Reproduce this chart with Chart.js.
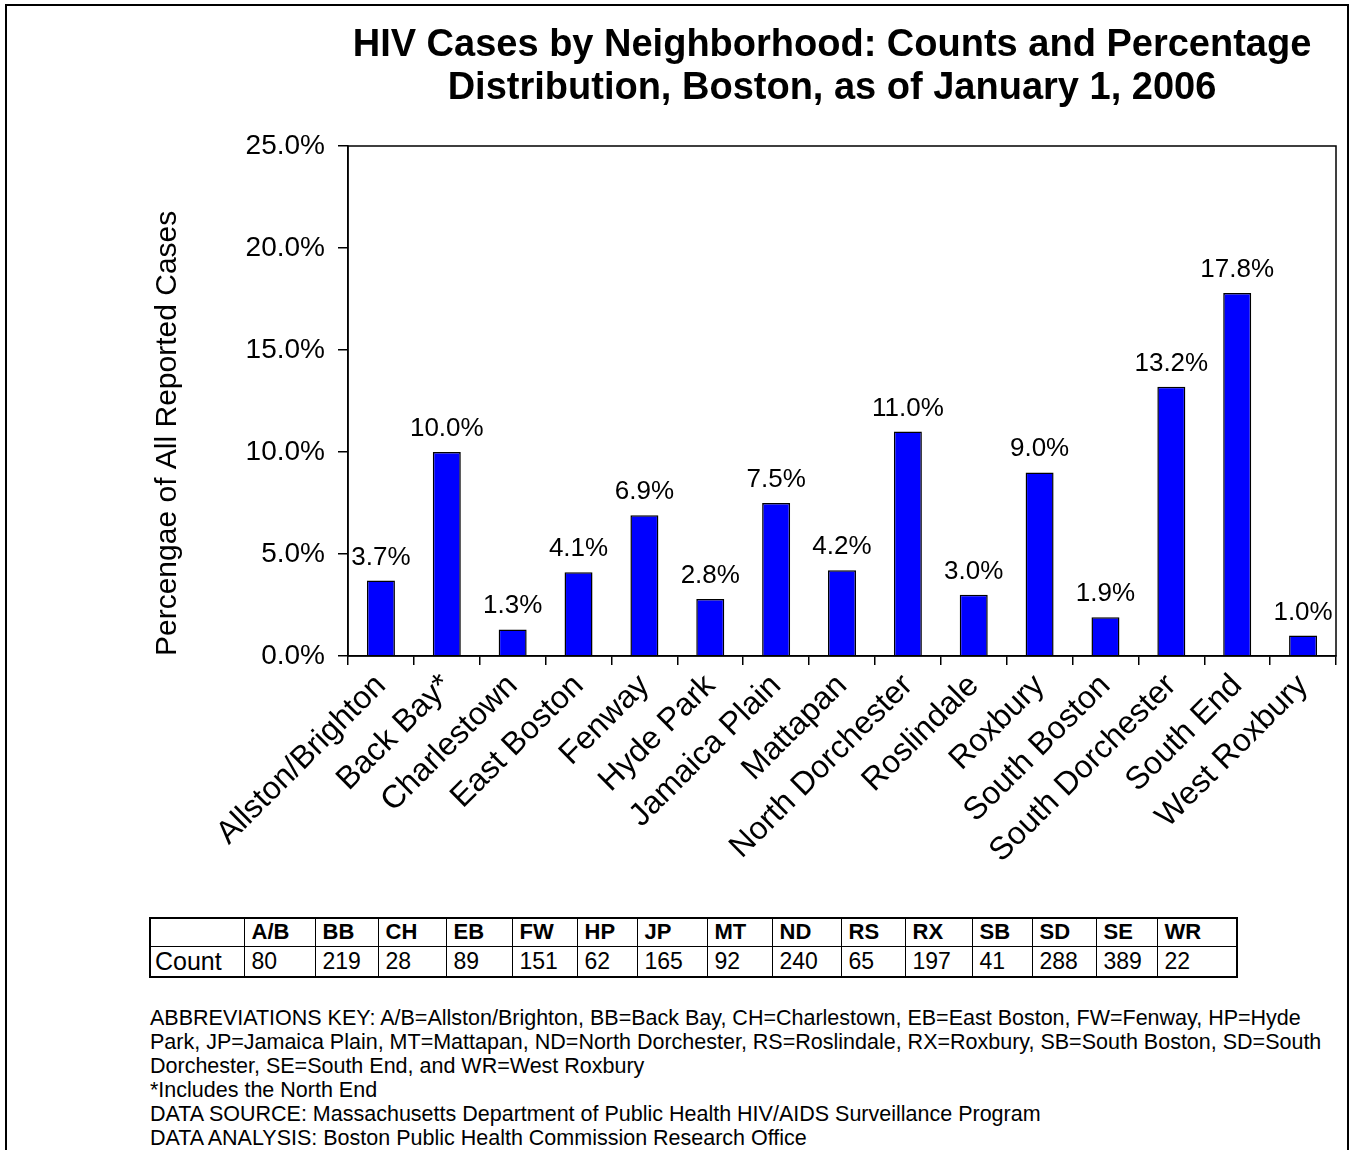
<!DOCTYPE html>
<html>
<head>
<meta charset="utf-8">
<script src="https://cdn.jsdelivr.net/npm/chart.js@4.4.1/dist/chart.umd.min.js"></script>
<style>
    body { margin: 0; background: #fff; font-family: Arial, "Liberation Sans", sans-serif; }
    #page { position: relative; width: 1354px; height: 1150px; overflow: hidden; background: #fff; }
    #frame { position: absolute; left: 5px; top: 4px; width: 1340px; height: 1200px; border: 2px solid #000; }
    #chartBox { position: absolute; left: 0; top: 0; width: 1354px; height: 900px; }
    #chartTitle { position: absolute; left: 332px; top: 22px; width: 1000px; text-align: center;
        font: bold 38px Arial, "Liberation Sans", sans-serif; line-height: 43px; color: #000; white-space: nowrap; }
    #countTable { position: absolute; left: 149px; top: 917px; border-collapse: collapse; border: 2px solid #000;
        table-layout: fixed; width: 1087px; }
    #countTable td { border: 1.5px solid #000; padding: 0 0 0 7px; height: 28px; font-size: 23px; color: #000;
        box-sizing: border-box; overflow: hidden; white-space: nowrap; }
    #countTable tr:first-child td { font-weight: bold; font-size: 22px; }
    #countTable tr:last-child td:first-child { font-size: 25px; padding-left: 4px; }
    #notes { position: absolute; left: 150px; top: 1006px; font-size: 21.5px; line-height: 24px; color: #000; white-space: nowrap; }
</style>
</head>
<body>
<div id="page">
    <div id="frame"></div>
    <div id="chartBox"><canvas id="hivChart" width="1354" height="900"></canvas></div>
    <div id="chartTitle">HIV Cases by Neighborhood: Counts and Percentage<br>Distribution, Boston, as of January 1, 2006</div>
    <table id="countTable"><colgroup id="tableCols"></colgroup></table>
    <div id="notes">
        ABBREVIATIONS KEY: A/B=Allston/Brighton, BB=Back Bay, CH=Charlestown, EB=East Boston, FW=Fenway, HP=Hyde<br>
        Park, JP=Jamaica Plain, MT=Mattapan, ND=North Dorchester, RS=Roslindale, RX=Roxbury, SB=South Boston, SD=South<br>
        Dorchester, SE=South End, and WR=West Roxbury<br>
        *Includes the North End<br>
        DATA SOURCE: Massachusetts Department of Public Health HIV/AIDS Surveillance Program<br>
        DATA ANALYSIS: Boston Public Health Commission Research Office
    </div>
</div>
<script>
const neighborhoods = ["Allston/Brighton", "Back Bay*", "Charlestown", "East Boston", "Fenway", "Hyde Park",
    "Jamaica Plain", "Mattapan", "North Dorchester", "Roslindale", "Roxbury", "South Boston",
    "South Dorchester", "South End", "West Roxbury"];
const percentages = [3.7, 10.0, 1.3, 4.1, 6.9, 2.8, 7.5, 4.2, 11.0, 3.0, 9.0, 1.9, 13.2, 17.8, 1.0];
const abbreviations = ["A/B", "BB", "CH", "EB", "FW", "HP", "JP", "MT", "ND", "RS", "RX", "SB", "SD", "SE", "WR"];
const counts = [80, 219, 28, 89, 151, 62, 165, 92, 240, 65, 197, 41, 288, 389, 22];
const yTicks = [0, 5, 10, 15, 20, 25];

const columnWidths = [94, 71, 63, 68, 66, 65, 60, 70, 65, 69, 64, 67, 60, 64, 61, 80];

function buildTable() {
    const table = document.getElementById('countTable');
    const cols = document.getElementById('tableCols');
    columnWidths.forEach(w => {
        const col = document.createElement('col');
        col.style.width = w + 'px';
        cols.appendChild(col);
    });
    const head = table.insertRow();
    const body = table.insertRow();
    head.insertCell().innerHTML = "&nbsp;";
    body.insertCell().textContent = "Count";
    abbreviations.forEach((abbr, i) => {
        head.insertCell().textContent = abbr;
        body.insertCell().textContent = counts[i];
    });
}

// frame round the plot area
const plotFrame = {
    id: 'plotFrame',
    afterDraw(chart) {
        const {ctx, chartArea} = chart;
        ctx.save();
        ctx.strokeStyle = '#000';
        ctx.lineWidth = 1.5;
        ctx.strokeRect(chartArea.left, chartArea.top, chartArea.right - chartArea.left, chartArea.bottom - chartArea.top);
        ctx.restore();
    }
};

// percent labels above the bars
const barValues = {
    id: 'barValues',
    afterDatasetsDraw(chart) {
        const ctx = chart.ctx;
        const meta = chart.getDatasetMeta(0);
        ctx.save();
        ctx.font = '26px Arial, "Liberation Sans", sans-serif';
        ctx.fillStyle = '#000';
        ctx.textAlign = 'center';
        ctx.textBaseline = 'alphabetic';
        meta.data.forEach((bar, i) => {
            ctx.fillText(percentages[i].toFixed(1) + '%', bar.x, bar.y - 16);
        });
        ctx.restore();
    }
};

function configChart() {
    const ctx = document.getElementById('hivChart').getContext('2d');
    new Chart(ctx, {
        type: 'bar',
        data: {
            labels: neighborhoods,
            datasets: [{
                data: percentages,
                backgroundColor: '#0000FF',
                borderColor: '#000',
                borderWidth: 1.5,
                categoryPercentage: 1.0,
                barPercentage: 0.425
            }]
        },
        options: {
            responsive: false,
            animation: false,
            layout: { padding: { left: 140, right: 18, top: 146, bottom: 0 } },
            plugins: {
                legend: { display: false },
                tooltip: { enabled: false },
                title: { display: false }
            },
            scales: {
                x: {
                    grid: { display: true, drawOnChartArea: false, offset: true, tickLength: 9, color: '#000', lineWidth: 1.5 },
                    border: { display: true, color: '#000', width: 1.5 },
                    ticks: {
                        autoSkip: false,
                        maxRotation: 45,
                        minRotation: 45,
                        padding: 2,
                        color: '#000',
                        font: { family: 'Arial, "Liberation Sans", sans-serif', size: 32 }
                    },
                    afterFit: (scale) => { scale.height = 244; }
                },
                y: {
                    min: 0,
                    max: 25,
                    afterBuildTicks: (scale) => { scale.ticks = yTicks.map(v => ({ value: v })); },
                    grid: { display: true, drawOnChartArea: false, tickLength: 10, color: '#000', lineWidth: 1.5 },
                    border: { display: true, color: '#000', width: 1.5 },
                    ticks: {
                        padding: 13,
                        color: '#000',
                        font: { family: 'Arial, "Liberation Sans", sans-serif', size: 28 },
                        callback: (value) => Number(value).toFixed(1) + '%'
                    },
                    title: {
                        display: true,
                        text: 'Percengae of All Reported Cases',
                        align: 'start',
                        color: '#000',
                        padding: { top: 10, bottom: 0 },
                        font: { family: 'Arial, "Liberation Sans", sans-serif', size: 30 }
                    },
                    afterFit: (scale) => { scale.width = 208; }
                }
            }
        },
        plugins: [plotFrame, barValues]
    });
}

buildTable();
configChart();
</script>
</body>
</html>
